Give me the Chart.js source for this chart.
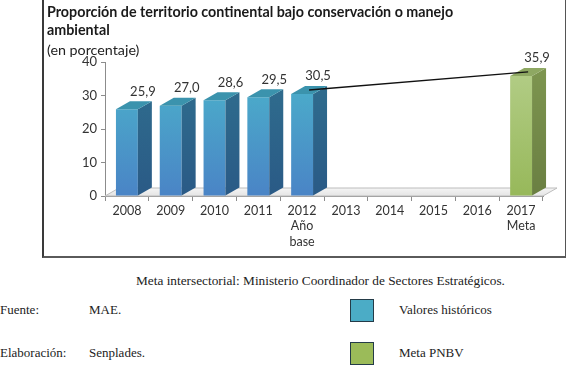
<!DOCTYPE html>
<html>
<head>
<meta charset="utf-8">
<script src="https://cdn.jsdelivr.net/npm/chart.js@4/dist/chart.umd.min.js"></script>
<style>
  html,body{margin:0;padding:0;background:#fff;}
  body{width:567px;height:367px;position:relative;overflow:hidden;font-family:"Liberation Serif","Times New Roman",serif;color:#222;}
  #box{position:absolute;left:42px;top:-2px;width:521px;height:258px;border-left:2px solid #3a3a3a;border-right:1px solid #555;border-bottom:2px solid #5a5a5a;}
  #wrap{position:absolute;left:47px;top:0;width:518px;height:257px;}
  .t{position:absolute;font-size:13px;line-height:16px;white-space:nowrap;}
  .sw{position:absolute;width:22px;height:21px;border:1.5px solid #243b48;}
</style>
</head>
<body>
<div id="box"></div>
<div id="wrap"><canvas id="c"></canvas></div>
<div class="t" style="left:136px;top:273px;font-size:13.3px;">Meta intersectorial: Ministerio Coordinador de Sectores Estratégicos.</div>
<div class="t" style="left:0;top:302px;">Fuente:</div>
<div class="t" style="left:89px;top:302px;">MAE.</div>
<div class="t" style="left:0;top:345px;">Elaboración:</div>
<div class="t" style="left:89px;top:345px;">Senplades.</div>
<div class="sw" style="left:350px;top:299px;background:#4bacc6;"></div>
<div class="t" style="left:399px;top:302px;">Valores históricos</div>
<div class="sw" style="left:350px;top:342px;background:#9bbb59;"></div>
<div class="t" style="left:399px;top:345px;">Meta PNBV</div>
<script>
const categories = [['2008'],['2009'],['2010'],['2011'],['2012','Año','base'],['2013'],['2014'],['2015'],['2016'],['2017','Meta']];
const historicValues = [25.9, 27.0, 28.6, 29.5, 30.5, null, null, null, null, null];
const goalValues = [null, null, null, null, null, null, null, null, null, 35.9];
const trendValues = [null, null, null, null, 30.5, null, null, null, null, 35.9];
const yTicks = [0, 10, 20, 30, 40];

const DX = 14, DY = 8;
const FONT = 'Lato, "Open Sans", sans-serif';

function grad(ctx, area, top, bottom){
  const g = ctx.createLinearGradient(0, area.top, 0, area.bottom);
  g.addColorStop(0, top); g.addColorStop(1, bottom); return g;
}
const palette = {
  blue: {front:['#4bb5cb','#4a84c6'], side:['#30708f','#2a5a86'], top:'#3b93ad'},
  green:{front:['#b4ce89','#97b85a'], side:['#7e9650','#6a7f42'], top:'#8ea862'}
};

const bar3d = {
  id:'bar3d',
  beforeDatasetsDraw(chart){
    const {ctx, chartArea:a, scales:{y}} = chart;
    const y0 = y.getPixelForValue(0);
    ctx.save();
    ctx.beginPath();
    ctx.moveTo(a.left, y0); ctx.lineTo(a.right, y0);
    ctx.lineTo(a.right+DX, y0-DY); ctx.lineTo(a.left+DX, y0-DY); ctx.closePath();
    const g = ctx.createLinearGradient(0, y0-DY, 0, y0);
    g.addColorStop(0,'#f5f5f5'); g.addColorStop(1,'#e4e4e4');
    ctx.fillStyle = g; ctx.fill();
    ctx.strokeStyle = '#bcbcbc'; ctx.lineWidth = 1; ctx.stroke();
    ctx.restore();
  },
  beforeDatasetDraw(chart, args){
    const ds = chart.data.datasets[args.index];
    if (ds.type === 'line'){ chart.ctx.save(); chart.ctx.translate(DX/2, -DY/2); }
  },
  afterDatasetDraw(chart, args){
    const ds = chart.data.datasets[args.index];
    const ctx = chart.ctx;
    if (ds.type === 'line'){ ctx.restore(); return; }
    const p = palette[ds.tone];
    const a = chart.chartArea;
    args.meta.data.forEach((el, i) => {
      if (ds.data[i] == null) return;
      const {x, y, base, width} = el.getProps(['x','y','base','width'], true);
      const l = x - width/2, r = x + width/2;
      ctx.save();
      ctx.beginPath();
      ctx.moveTo(r, y); ctx.lineTo(r+DX, y-DY); ctx.lineTo(r+DX, base-DY); ctx.lineTo(r, base); ctx.closePath();
      ctx.fillStyle = grad(ctx, a, p.side[0], p.side[1]); ctx.fill();
      ctx.beginPath();
      ctx.moveTo(l, y); ctx.lineTo(r, y); ctx.lineTo(r+DX, y-DY); ctx.lineTo(l+DX, y-DY); ctx.closePath();
      ctx.fillStyle = p.top; ctx.fill();
      ctx.restore();
    });
  },
  afterDatasetsDraw(chart){
    const ctx = chart.ctx;
    ctx.save();
    ctx.font = '13px ' + FONT; ctx.fillStyle = '#333';
    ctx.textAlign = 'center'; ctx.textBaseline = 'middle';
    chart.data.datasets.forEach((ds, di) => {
      if (ds.type === 'line') return;
      chart.getDatasetMeta(di).data.forEach((el, i) => {
        const v = ds.data[i];
        if (v == null) return;
        ctx.fillText(v.toFixed(1).replace('.', ','), el.x + DX + 2, el.y - 18);
      });
    });
    ctx.restore();
  }
};

new Chart(document.getElementById('c'), {
  data: {
    labels: categories,
    datasets: [
      {type:'line', label:'Tendencia', data: trendValues, spanGaps:true, borderColor:'#111', borderWidth:1.4, pointRadius:0, tension:0, order:0},
      {type:'bar', label:'Valores históricos', tone:'blue', data: historicValues, grouped:false, barPercentage:0.5, categoryPercentage:1,
        backgroundColor: c => c.chart.chartArea ? grad(c.chart.ctx, c.chart.chartArea, palette.blue.front[0], palette.blue.front[1]) : '#4bacc6', order:1},
      {type:'bar', label:'Meta PNBV', tone:'green', data: goalValues, grouped:false, barPercentage:0.5, categoryPercentage:1,
        backgroundColor: c => c.chart.chartArea ? grad(c.chart.ctx, c.chart.chartArea, palette.green.front[0], palette.green.front[1]) : '#9bbb59', order:1}
    ]
  },
  options: {
    responsive:true, maintainAspectRatio:false, animation:false,
    layout:{padding:{left:0, right:22, top:0, bottom:0}},
    plugins:{
      legend:{display:false}, tooltip:{enabled:false},
      title:{display:true, align:'start', text:['Proporción de territorio continental bajo conservación o manejo','ambiental'],
        color:'#1a1a1a', font:{family:FONT, size:14.3, weight:'bold', lineHeight:1.27}, padding:{top:3, bottom:0}},
      subtitle:{display:true, align:'start', text:'(en porcentaje)', color:'#222',
        font:{family:FONT, size:14.3, weight:'normal', lineHeight:1.25}, padding:{top:2, bottom:3}}
    },
    scales:{
      x:{
        grid:{display:true, drawOnChartArea:false, drawTicks:true, tickLength:5, color:'#8c8c8c', offset:true},
        border:{display:true, color:'#8c8c8c'},
        ticks:{color:'#333', font:{family:FONT, size:12.5, lineHeight:1.25}, padding:2, maxRotation:0, autoSkip:false},
        afterFit(s){ s.height = 61; }
      },
      y:{
        min:0, max:40,
        afterBuildTicks(s){ s.ticks = yTicks.map(v => ({value:v})); },
        grid:{display:true, drawOnChartArea:false, drawTicks:true, tickLength:4, color:'#8c8c8c'},
        border:{display:true, color:'#8c8c8c'},
        ticks:{color:'#333', font:{family:FONT, size:13}, padding:4},
        afterFit(s){ s.width = 58; }
      }
    }
  },
  plugins:[bar3d]
});
</script>
</body>
</html>
